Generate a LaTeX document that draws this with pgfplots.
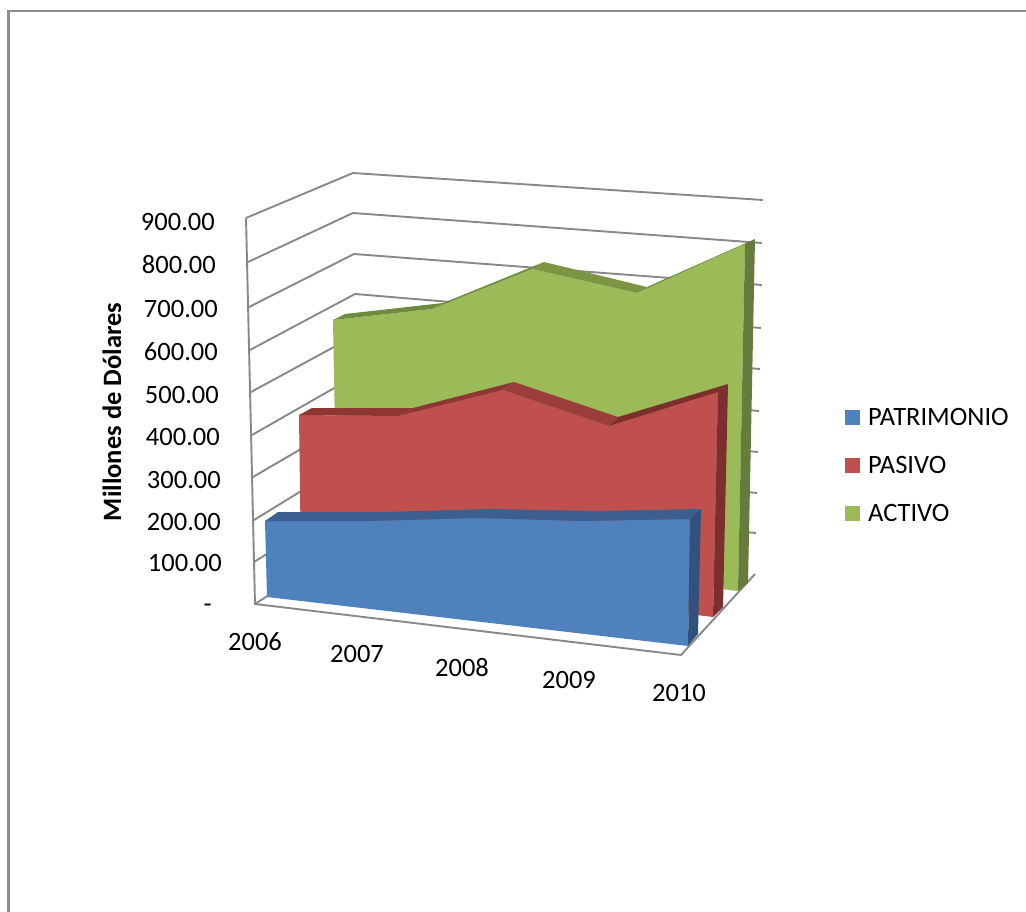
\documentclass[border=0pt]{standalone}
\usepackage{fontspec}
\setmainfont{Carlito}
\usepackage{pgfplots}
\pgfplotsset{compat=1.18}
\definecolor{gridgray}{HTML}{888888}
\definecolor{framegray}{HTML}{8C8C8C}
\definecolor{blueF}{HTML}{4F81BD}
\definecolor{blueT}{HTML}{3B5F8E}
\definecolor{blueS}{HTML}{32527D}
\definecolor{redF}{HTML}{C0504D}
\definecolor{redT}{HTML}{8F3634}
\definecolor{redU}{HTML}{9A3D3B}
\definecolor{redS}{HTML}{7D2F2E}
\definecolor{greenF}{HTML}{9BBB59}
\definecolor{greenT}{HTML}{6F8B3E}
\definecolor{greenU}{HTML}{7B9543}
\definecolor{greenS}{HTML}{667C3C}
\tikzset{
  grid line/.style={draw=gridgray, line width=1.9pt, no marks},
  face/.style={fill=#1, draw=none, no marks},
  lab/.style={font=\fontsize{26.5}{26.5}\selectfont, text=black, inner sep=0pt},
}
\begin{document}
\begin{tikzpicture}
% page extent
\path[use as bounding box] (0,0) rectangle (1026pt,912pt);
\begin{axis}[
  scale only axis, width=1026pt, height=912pt,
  xmin=0, xmax=1026, ymin=0, ymax=912, y dir=reverse,
  axis lines=none, clip=true,
]
% outer frame of the chart area
\addplot[draw=framegray, line width=2.4pt, no marks] coordinates {(1026,11) (8.5,11) (8.5,912)};

% floor and left wall edges
\addplot[grid line] coordinates {(246,218) (255,604) (681,655) (755,574)};
\addplot[grid line] coordinates {(255,604) (362,535)};
% gridlines, 900 down to 100 on the side wall then across the back wall
\addplot[grid line] coordinates {(246,218) (353,173) (763,200)};
\addplot[grid line] coordinates {(248,262) (353,213) (762,243)};
\addplot[grid line] coordinates {(249,307) (354,254) (762,285)};
\addplot[grid line] coordinates {(250,350) (355,294) (761,328)};
\addplot[grid line] coordinates {(251,392) (356,335) (760,369)};
\addplot[grid line] coordinates {(252,435) (357,375) (759,411)};
\addplot[grid line] coordinates {(253,477) (359,415) (758,452)};
\addplot[grid line] coordinates {(254,520) (360,455) (757,493)};
\addplot[grid line] coordinates {(254,562) (361,495) (756,533)};

% ACTIVO ribbon
\addplot[face=greenF] coordinates {(333,320) (432,309) (532,269) (637,293) (745,244) (738,591) (337,543)} -- cycle;
\addplot[face=greenT] coordinates {(333,320) (345,314) (443,303) (432,309)} -- cycle;
\addplot[face=greenT] coordinates {(432,309) (443,303) (544,262) (532,269)} -- cycle;
\addplot[face=greenU] coordinates {(532,269) (544,262) (647,287) (637,293)} -- cycle;
\addplot[face=greenT] coordinates {(637,293) (647,287) (755,239) (745,244)} -- cycle;
\addplot[face=greenS] coordinates {(745,244) (755,239) (748,583) (738,591)} -- cycle;

% PASIVO ribbon
\addplot[face=redF] coordinates {(299,415) (398,416) (503,390) (609,426) (718,392) (713,617) (301,567)} -- cycle;
\addplot[face=redT] coordinates {(299,415) (312,408) (413,408) (398,416)} -- cycle;
\addplot[face=redT] coordinates {(398,416) (413,408) (514,382) (503,390)} -- cycle;
\addplot[face=redU] coordinates {(503,390) (514,382) (618,417) (609,426)} -- cycle;
\addplot[face=redS] coordinates {(609,426) (618,417) (728,384) (718,392)} -- cycle;
\addplot[face=redS] coordinates {(718,392) (728,384) (723,607) (713,617)} -- cycle;

% PATRIMONIO ribbon
\addplot[face=blueF] coordinates {(265,521) (370,521) (477,518) (583,521) (690,519) (688,646) (267,597)} -- cycle;
\addplot[face=blueT] coordinates {(265,521) (278,512) (385,512) (490,509) (597,511) (701,509) (690,519) (583,521) (477,518) (370,521)} -- cycle;
\addplot[face=blueS] coordinates {(690,519) (701,509) (698,634) (688,646)} -- cycle;

% legend swatches
\addplot[face=blueF] coordinates {(845,410) (860,410) (860,425) (845,425)} -- cycle;
\addplot[face=redF] coordinates {(845,458) (860,458) (860,473) (845,473)} -- cycle;
\addplot[face=greenF] coordinates {(845,506) (860,506) (860,521) (845,521)} -- cycle;

% value axis labels
\node[lab, anchor=east] at (axis cs:215,222) {900.00};
\node[lab, anchor=east] at (axis cs:216,265) {800.00};
\node[lab, anchor=east] at (axis cs:218,309) {700.00};
\node[lab, anchor=east] at (axis cs:218,352) {600.00};
\node[lab, anchor=east] at (axis cs:219,395) {500.00};
\node[lab, anchor=east] at (axis cs:220,437) {400.00};
\node[lab, anchor=east] at (axis cs:221,480) {300.00};
\node[lab, anchor=east] at (axis cs:221,522) {200.00};
\node[lab, anchor=east] at (axis cs:222,563) {100.00};
\node[lab, anchor=east] at (axis cs:212,608) {-};
% year labels
\node[lab] at (axis cs:255,642) {2006};
\node[lab] at (axis cs:357,654) {2007};
\node[lab] at (axis cs:462,668) {2008};
\node[lab] at (axis cs:569,680) {2009};
\node[lab] at (axis cs:679,693) {2010};
% value axis title
\node[lab, rotate=90, font=\fontsize{26.5}{26.5}\selectfont\bfseries] at (axis cs:112,412) {Millones de Dólares};
% legend entries
\node[lab, anchor=west] at (axis cs:868,417) {PATRIMONIO};
\node[lab, anchor=west] at (axis cs:868,465) {PASIVO};
\node[lab, anchor=west] at (axis cs:868,513) {ACTIVO};
\end{axis}
\end{tikzpicture}
\end{document}
